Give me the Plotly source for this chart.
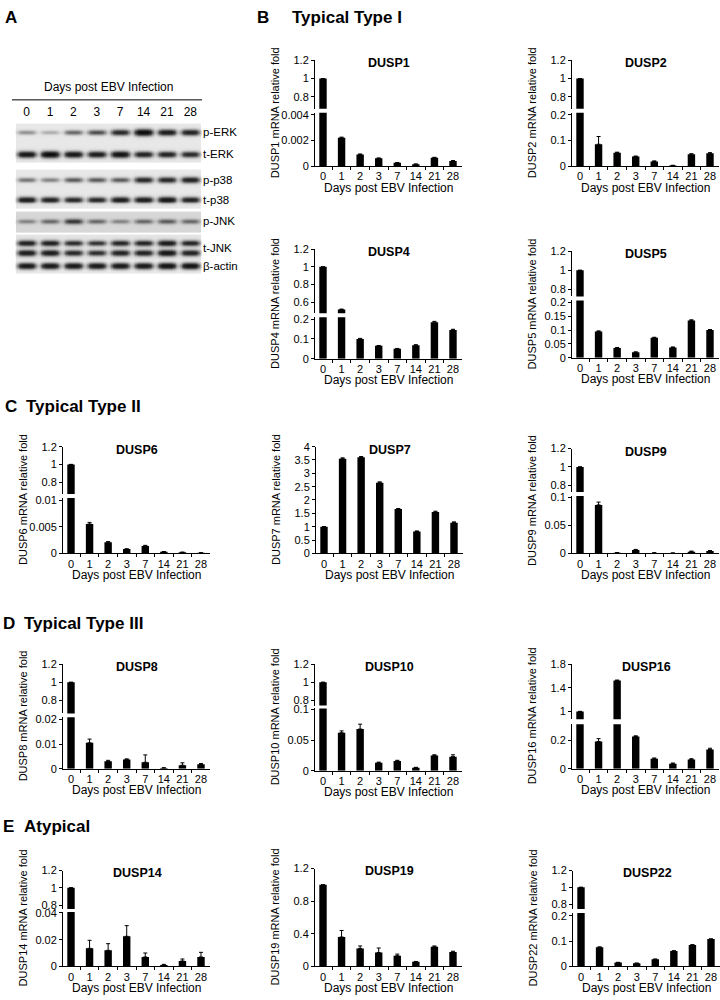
import numpy as np
import plotly.graph_objects as go

FIG_W, FIG_H = 720, 1000
FONT = "Liberation Sans, Arial, sans-serif"

days = ["0", "1", "2", "3", "7", "14", "21", "28"]

# ---------------- Panel A: western blot band intensities (0..1) ----------------
blot_labels = ["p-ERK", "t-ERK", "p-p38", "t-p38", "p-JNK", "t-JNK", "β-actin"]
band_pERK = [0.30, 0.20, 0.45, 0.55, 0.75, 1.00, 0.85, 0.80]
band_tERK = [0.90, 1.00, 0.90, 0.85, 0.95, 0.80, 0.80, 0.75]
band_pp38 = [0.40, 0.35, 0.50, 0.50, 0.50, 0.75, 0.75, 0.80]
band_tp38 = [0.85, 0.80, 0.75, 0.75, 0.85, 0.85, 0.90, 0.80]
band_pJNK = [0.30, 0.40, 0.60, 0.40, 0.30, 0.40, 0.45, 0.40]
band_tJNK = [0.85, 0.85, 0.75, 0.70, 0.80, 0.80, 0.90, 0.80]
band_actin = [0.90, 0.90, 0.90, 0.90, 0.90, 0.90, 0.95, 0.95]

# ---------------- qPCR: relative fold (mean, error) ----------------
dusp1 = [1.0, 0.0022, 0.0009, 0.0006, 0.00025, 0.00015, 0.00065, 0.0004]
dusp1_err = [0, 0.00005, 0.00004, 0.00003, 0.00002, 0.00001, 0.00003, 0.00003]
dusp2 = [1.0, 0.085, 0.052, 0.037, 0.018, 0.002, 0.046, 0.050]
dusp2_err = [0, 0.030, 0.002, 0.002, 0.002, 0.001, 0.002, 0.002]
dusp4 = [1.0, 0.52, 0.10, 0.065, 0.05, 0.068, 0.185, 0.145]
dusp4_err = [0, 0.005, 0.003, 0.002, 0.002, 0.003, 0.004, 0.004]
dusp5 = [1.0, 0.095, 0.035, 0.020, 0.072, 0.037, 0.135, 0.100]
dusp5_err = [0, 0.002, 0.002, 0.001, 0.002, 0.002, 0.002, 0.002]
dusp6 = [1.0, 0.0055, 0.0021, 0.0008, 0.0014, 0.0003, 0.0002, 0.0001]
dusp6_err = [0, 0.0003, 0.0001, 0.00005, 0.0001, 0.00003, 0.00002, 0.00001]
dusp7 = [1.0, 3.55, 3.60, 2.65, 1.66, 0.82, 1.55, 1.15]
dusp7_err = [0, 0.03, 0.03, 0.03, 0.02, 0.02, 0.03, 0.03]
dusp9 = [1.0, 0.086, 0.0012, 0.006, 0.0008, 0.0005, 0.003, 0.004]
dusp9_err = [0, 0.005, 0.0003, 0.001, 0.0003, 0.0002, 0.001, 0.001]
dusp8 = [1.0, 0.0105, 0.0030, 0.0037, 0.0026, 0.0003, 0.0014, 0.0018]
dusp8_err = [0, 0.0015, 0.0004, 0.0003, 0.0030, 0.0001, 0.0010, 0.0003]
dusp10 = [1.0, 0.062, 0.068, 0.013, 0.016, 0.005, 0.025, 0.023]
dusp10_err = [0, 0.003, 0.008, 0.001, 0.001, 0.0005, 0.001, 0.003]
dusp16 = [1.0, 0.19, 1.52, 0.225, 0.07, 0.035, 0.065, 0.135]
dusp16_err = [0, 0.02, 0.01, 0.005, 0.005, 0.005, 0.005, 0.008]
dusp14 = [1.0, 0.0135, 0.012, 0.0225, 0.007, 0.001, 0.004, 0.007]
dusp14_err = [0, 0.006, 0.005, 0.008, 0.003, 0.0005, 0.0015, 0.0035]
dusp19 = [1.0, 0.36, 0.22, 0.17, 0.13, 0.055, 0.24, 0.175]
dusp19_err = [0, 0.08, 0.03, 0.055, 0.02, 0.005, 0.01, 0.01]
dusp22 = [1.0, 0.076, 0.015, 0.012, 0.028, 0.061, 0.085, 0.108]
dusp22_err = [0, 0.001, 0.001, 0.001, 0.001, 0.001, 0.001, 0.001]


def fx(p):
    return p / FIG_W


def fy(p):
    return 1 - p / FIG_H


def val_at(p, anch):
    (v1, p1), (v2, p2) = anch
    return v1 + (p - p1) * (v2 - v1) / (p2 - p1)


# ---------------- layout geometry (pixels) ----------------
AX_LEN = 147
panels = [
    dict(gene="DUSP1", v=dusp1, e=dusp1_err, x0=315, ytop=55, ybot=162,
         up=dict(anch=((1.2, 55), (0.8, 92)), bottom=104, ticks=[0.8, 1, 1.2]),
         lo=dict(top=108, anch=((0.004, 110), (0, 162)), ticks=[0, 0.002, 0.004])),
    dict(gene="DUSP2", v=dusp2, e=dusp2_err, x0=572, ytop=55, ybot=162,
         up=dict(anch=((1.2, 55), (0.8, 92)), bottom=104, ticks=[0.8, 1, 1.2]),
         lo=dict(top=108, anch=((0.2, 110), (0, 162)), ticks=[0, 0.1, 0.2])),
    dict(gene="DUSP4", v=dusp4, e=dusp4_err, x0=315, ytop=246, ybot=357,
         up=dict(anch=((1.2, 246), (0.6, 300)), bottom=311, ticks=[0.6, 0.8, 1, 1.2]),
         lo=dict(top=315, anch=((0.2, 317), (0, 357)), ticks=[0, 0.1, 0.2])),
    dict(gene="DUSP5", v=dusp5, e=dusp5_err, x0=572, ytop=248, ybot=356,
         up=dict(anch=((1.2, 248), (0.8, 287)), bottom=294, ticks=[0.8, 1, 1.2]),
         lo=dict(top=298, anch=((0.2, 300), (0, 356)), ticks=[0, 0.05, 0.1, 0.15, 0.2])),
    dict(gene="DUSP6", v=dusp6, e=dusp6_err, x0=63, ytop=446, ybot=554,
         up=dict(anch=((1.2, 446), (0.8, 482)), bottom=494, ticks=[0.8, 1, 1.2]),
         lo=dict(top=498, anch=((0.01, 500), (0, 554)), ticks=[0, 0.005, 0.01])),
    dict(gene="DUSP7", v=dusp7, e=dusp7_err, x0=316, ytop=446, ybot=554,
         up=None,
         lo=dict(top=446, anch=((4, 446), (0, 554)),
                 ticks=[0, 0.5, 1, 1.5, 2, 2.5, 3, 3.5, 4])),
    dict(gene="DUSP9", v=dusp9, e=dusp9_err, x0=572, ytop=448, ybot=554,
         up=dict(anch=((1.2, 448), (0.8, 485)), bottom=492, ticks=[0.8, 1, 1.2]),
         lo=dict(top=496, anch=((0.1, 497), (0, 554)), ticks=[0, 0.05, 0.1])),
    dict(gene="DUSP8", v=dusp8, e=dusp8_err, x0=63, ytop=666, ybot=772,
         up=dict(anch=((1.2, 666), (0.8, 703)), bottom=716, ticks=[0.8, 1, 1.2]),
         lo=dict(top=720, anch=((0.02, 722), (0, 772)), ticks=[0, 0.01, 0.02])),
    dict(gene="DUSP10", v=dusp10, e=dusp10_err, x0=315, ytop=666, ybot=774,
         up=dict(anch=((1.2, 666), (0.8, 703)), bottom=708, ticks=[0.8, 1, 1.2]),
         lo=dict(top=711, anch=((0.1, 712), (0, 774)), ticks=[0, 0.05, 0.1])),
    dict(gene="DUSP16", v=dusp16, e=dusp16_err, x0=572, ytop=666, ybot=772,
         up=dict(anch=((1.8, 666), (1.0, 714)), bottom=722, ticks=[1, 1.4, 1.8]),
         lo=dict(top=727, anch=((0.2, 743), (0, 772)), ticks=[0, 0.2])),
    dict(gene="DUSP14", v=dusp14, e=dusp14_err, x0=63, ytop=875, ybot=972,
         up=dict(anch=((1.2, 875), (0.8, 910)), bottom=914, ticks=[0.8, 1, 1.2]),
         lo=dict(top=917, anch=((0.04, 918), (0, 972)), ticks=[0, 0.02, 0.04])),
    dict(gene="DUSP19", v=dusp19, e=dusp19_err, x0=315, ytop=873, ybot=972,
         up=None,
         lo=dict(top=873, anch=((1.2, 873), (0, 972)), ticks=[0, 0.4, 0.8, 1.2])),
    dict(gene="DUSP22", v=dusp22, e=dusp22_err, x0=573, ytop=875, ybot=972,
         up=dict(anch=((1.2, 875), (0.8, 909)), bottom=914, ticks=[0.8, 1, 1.2]),
         lo=dict(top=918, anch=((0.2, 921), (0, 972)), ticks=[0, 0.1, 0.2])),
]

fig = go.Figure()
layout = {}
annotations = []
shapes = []

tickfont = dict(family=FONT, size=11, color="black")

# ---------------- Panel A: blot drawn as heatmap ----------------
band_rows = [band_pERK, band_tERK, band_pp38, band_tp38, band_pJNK, band_tJNK, band_actin]
band_centers = [[128], [150], [176], [196], [218], [240, 250], [263]]
strips = [(119, 158, 0.05), (166, 205, 0.05), (208, 229, 0.10), (231, 256, 0.06), (257, 270, 0.04)]
BL_X0, BL_X1, BL_Y0, BL_Y1 = 15, 202, 115, 272
lane_x = np.linspace(-0.5, 7.5, 321)
rows_y = np.arange(BL_Y0, BL_Y1 + 0.5, 0.5)
Z = np.zeros((len(rows_y), len(lane_x)))
inside = (lane_x > -0.46) & (lane_x < 7.46)
for y0, y1, lvl in strips:
    m = (rows_y >= y0) & (rows_y <= y1)
    Z[np.ix_(m, inside)] = lvl
for inten, centers in zip(band_rows, band_centers):
    for i, a in enumerate(inten):
        hprof = np.exp(-np.abs((lane_x - i) / 0.40) ** 4)
        for c in centers:
            sig = 1.6 + 1.6 * a
            vprof = np.exp(-((rows_y - c) / sig) ** 2)
            Z += 0.92 * a * np.outer(vprof, hprof)
Z = np.clip(Z, 0, 1)
fig.add_trace(go.Heatmap(
    x=lane_x, y=rows_y, z=Z, zmin=0, zmax=1, zsmooth="best", showscale=False,
    colorscale=[[0, "#ffffff"], [0.04, "#ebebeb"], [0.2, "#b5b5b5"], [0.6, "#3a3a3a"], [1, "#050505"]],
    xaxis="x", yaxis="y", hoverinfo="skip"))
layout["xaxis"] = dict(domain=[fx(BL_X0), fx(BL_X1)], range=[-0.5, 7.5], side="top",
                       tickvals=list(range(8)), ticktext=days, ticks="", showline=False,
                       showgrid=False, zeroline=False, tickfont=dict(family=FONT, size=12),
                       anchor="y", fixedrange=True, tickangle=0)
layout["yaxis"] = dict(domain=[fy(BL_Y1), fy(BL_Y0)], range=[BL_Y1, BL_Y0], side="right",
                       tickvals=[float(np.mean(c)) for c in band_centers], ticktext=blot_labels,
                       ticks="", showline=False, showgrid=False, zeroline=False,
                       tickfont=dict(family=FONT, size=11.5), anchor="x", fixedrange=True)
annotations.append(dict(text="Days post EBV Infection", x=fx(108), y=fy(82), xref="paper", yref="paper",
                        showarrow=False, font=dict(family=FONT, size=12), xanchor="center", yanchor="middle"))
shapes.append(dict(type="line", xref="paper", yref="paper", x0=fx(12), x1=fx(202), y0=fy(95), y1=fy(95),
                   line=dict(color="black", width=1)))

# ---------------- bar panels ----------------
ax = 2
for p in panels:
    xi = ax
    ax += 1
    lo_i = ax
    ax += 1
    x0 = p["x0"]
    xr = [-8 / 18.57, (AX_LEN - 8) / 18.57]
    lo = p["lo"]
    layout[f"xaxis{xi}"] = dict(
        domain=[fx(x0), fx(x0 + AX_LEN)], type="category", range=xr, anchor=f"y{lo_i}",
        showline=True, linecolor="black", linewidth=1, ticks="outside", tickson="boundaries",
        ticklen=3, tickcolor="black", showgrid=False, zeroline=False, tickfont=tickfont,
        tickangle=0, fixedrange=True)
    layout[f"yaxis{lo_i}"] = dict(
        domain=[fy(p["ybot"]), fy(lo["top"])],
        range=[val_at(p["ybot"], lo["anch"]), val_at(lo["top"], lo["anch"])],
        anchor=f"x{xi}", showline=True, linecolor="black", linewidth=1, ticks="outside",
        ticklen=3, tickcolor="black", tickvals=lo["ticks"], ticktext=[format(t, "g") for t in lo["ticks"]],
        showgrid=False, zeroline=False, tickfont=tickfont, fixedrange=True)
    errkw = dict(type="data", array=p["e"], arrayminus=[0] * len(p["e"]), symmetric=False,
                 color="black", thickness=1, width=2)
    fig.add_trace(go.Bar(x=days, y=p["v"], xaxis=f"x{xi}", yaxis=f"y{lo_i}", marker_color="black",
                         marker_line_width=0, width=0.4, error_y=errkw, showlegend=False))
    if p["up"] is not None:
        up = p["up"]
        up_i = ax
        ax += 1
        layout[f"yaxis{up_i}"] = dict(
            domain=[fy(up["bottom"]), fy(p["ytop"])],
            range=[val_at(up["bottom"], up["anch"]), val_at(p["ytop"], up["anch"])],
            anchor=f"x{xi}", showline=True, linecolor="black", linewidth=1, ticks="outside",
            ticklen=3, tickcolor="black", tickvals=up["ticks"],
            ticktext=[format(t, "g") for t in up["ticks"]],
            showgrid=False, zeroline=False, tickfont=tickfont, fixedrange=True)
        fig.add_trace(go.Bar(x=days, y=p["v"], xaxis=f"x{xi}", yaxis=f"y{up_i}", marker_color="black",
                             marker_line_width=0, width=0.4, error_y=errkw, showlegend=False))
    # gene title
    annotations.append(dict(text=f"<b>{p['gene']}</b>", x=fx(x0 + 74), y=fy(p["ytop"] + 3),
                            xref="paper", yref="paper", showarrow=False, xanchor="center", yanchor="middle",
                            font=dict(family=FONT, size=12.5, color="black")))
    # y title
    annotations.append(dict(text=f"{p['gene']} mRNA relative fold", x=fx(x0 - 40),
                            y=fy((p["ytop"] + p["ybot"]) / 2), xref="paper", yref="paper",
                            showarrow=False, textangle=-90, xanchor="center", yanchor="middle",
                            font=dict(family=FONT, size=11, color="black")))
    # x title
    annotations.append(dict(text="Days post EBV Infection", x=fx(x0 + AX_LEN / 2), y=fy(p["ybot"] + 22),
                            xref="paper", yref="paper", showarrow=False, xanchor="center", yanchor="middle",
                            font=dict(family=FONT, size=12, color="black")))

# ---------------- section headings ----------------
headings = [("A", 3, 12, None), ("B", 255, 12, "Typical Type I"), ("C", 3, 405, "Typical Type II"),
            ("D", 1, 625, "Typical Type III"), ("E", 1, 830, "Atypical")]
for letter, hx, hy, label in headings:
    annotations.append(dict(text=f"<b>{letter}</b>", x=fx(hx), y=fy(hy), xref="paper", yref="paper",
                            showarrow=False, xanchor="left", yanchor="middle",
                            font=dict(family=FONT, size=17, color="black")))
    if label:
        off = 35 if letter == "B" else 21
        annotations.append(dict(text=f"<b>{label}</b>", x=fx(hx + off), y=fy(hy), xref="paper", yref="paper",
                                showarrow=False, xanchor="left", yanchor="middle",
                                font=dict(family=FONT, size=17, color="black")))

fig.update_layout(
    width=FIG_W, height=FIG_H, margin=dict(l=0, r=0, t=0, b=0),
    paper_bgcolor="white", plot_bgcolor="white", showlegend=False,
    font=dict(family=FONT, color="black"), annotations=annotations, shapes=shapes,
    bargap=0.5, **layout)

fig.write_html("out.html", config={"displayModeBar": False, "staticPlot": True},
               post_script="document.body.style.margin='0';document.body.style.overflow='hidden';")
